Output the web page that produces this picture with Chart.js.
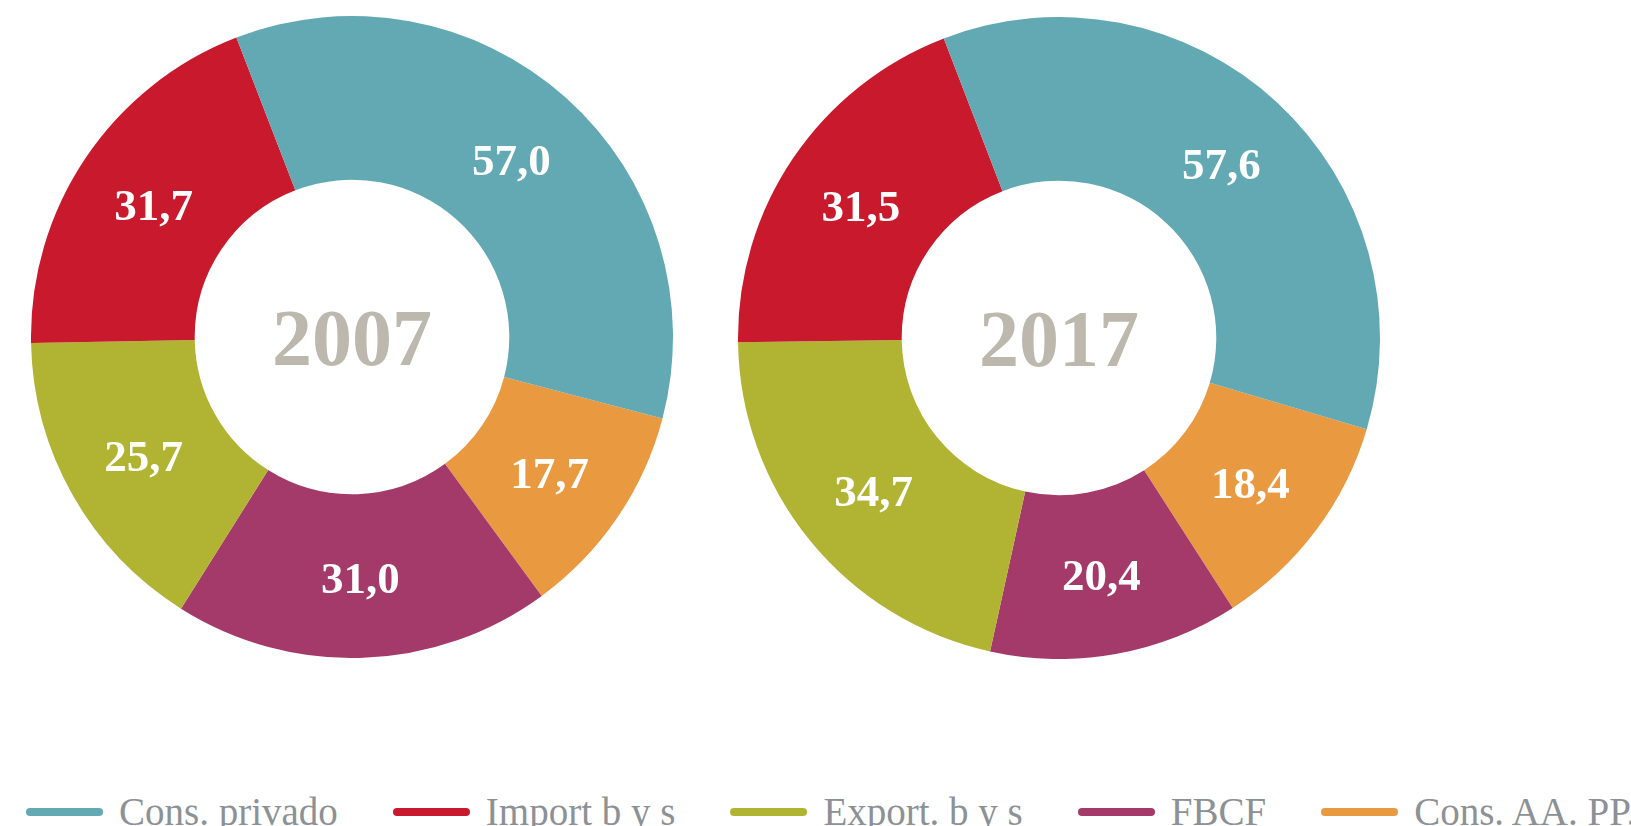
<!DOCTYPE html>
<html>
<head>
<meta charset="utf-8">
<script src="https://cdn.jsdelivr.net/npm/chart.js@4"></script>
<style>
  body { margin: 0; background: #fff; width: 1631px; height: 826px; overflow: hidden; position: relative; }
  .pie { position: absolute; width: 642px; height: 642px; }
  #leyenda { position: absolute; left: 26px; top: 789px; display: flex; align-items: center; gap: 55px;
    font-family: "Liberation Serif", serif; font-size: 39px; color: #8c9196; white-space: nowrap; }
  #leyenda .item { display: flex; align-items: center; gap: 16px; }
  #leyenda .barra { width: 77px; height: 8px; border-radius: 4px; }
</style>
</head>
<body>
<div class="pie" style="left:31px; top:16px;"><canvas id="pie2007"></canvas></div>
<div class="pie" style="left:738px; top:17px;"><canvas id="pie2017"></canvas></div>
<div id="leyenda"></div>
<script>
const categorias = ["Cons. privado", "Import b y s", "Export. b y s", "FBCF", "Cons. AA. PP."];
const colores = ["#62a9b4", "#c8192d", "#b1b432", "#a43a69", "#e99a41"];
const valores2007 = [57.0, 31.7, 25.7, 31.0, 17.7];
const valores2017 = [57.6, 31.5, 34.7, 20.4, 18.4];
const anios = ["2007", "2017"];

// las porciones van en sentido antihorario, Chart.js dibuja en sentido horario
const rev = (a) => a.slice().reverse();

const etiquetas = {
  id: "etiquetas",
  afterDatasetsDraw(chart, args, opts) {
    const ctx = chart.ctx;
    const meta = chart.getDatasetMeta(0);
    const vals = chart.data.datasets[0].data;
    ctx.save();
    ctx.textAlign = "center";
    ctx.textBaseline = "middle";
    ctx.fillStyle = "#ffffff";
    ctx.font = "bold 45px 'Liberation Serif'";
    meta.data.forEach((arc, i) => {
      const p = arc.tooltipPosition();
      ctx.fillText(vals[i].toFixed(1).replace(".", ","), p.x, p.y + 5);
    });
    const a = chart.chartArea;
    ctx.fillStyle = "#bcb8ae";
    ctx.font = "bold 80px 'Liberation Serif'";
    ctx.fillText(opts.anio, (a.left + a.right) / 2, (a.top + a.bottom) / 2 + 7);
    ctx.restore();
  },
};

function dona(id, valores, anio, rotacion) {
  return new Chart(document.getElementById(id), {
    type: "doughnut",
    data: {
      labels: rev(categorias),
      datasets: [
        {
          data: rev(valores),
          backgroundColor: rev(colores),
          borderWidth: 0,
        },
      ],
    },
    options: {
      responsive: true,
      maintainAspectRatio: false,
      animation: false,
      cutout: "49%",
      rotation: rotacion,
      layout: { padding: 0 },
      plugins: {
        legend: { display: false },
        tooltip: { enabled: false },
        etiquetas: { anio: anio },
      },
    },
    plugins: [etiquetas],
  });
}

dona("pie2007", valores2007, anios[0], 104.7);
dona("pie2017", valores2017, anios[1], 106.5);

const leyenda = document.getElementById("leyenda");
categorias.forEach((c, i) => {
  const item = document.createElement("div");
  item.className = "item";
  item.innerHTML = '<span class="barra" style="background:' + colores[i] + '"></span><span>' + c + "</span>";
  leyenda.appendChild(item);
});
</script>
</body>
</html>
